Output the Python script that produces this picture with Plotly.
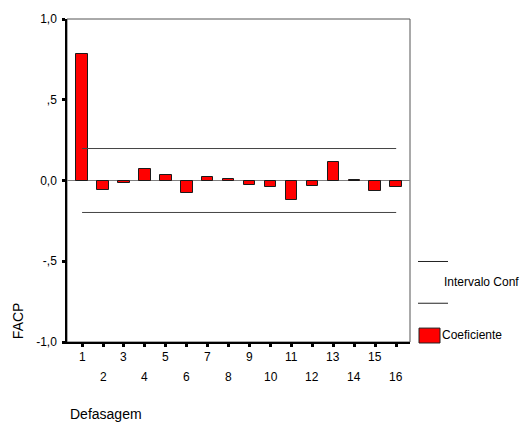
import plotly.graph_objects as go

# Partial autocorrelation (FACP) by lag, with the confidence bounds
lags = list(range(1, 17))
facp = [0.783, -0.057, -0.014, 0.069, 0.035, -0.078, 0.020, 0.008,
        -0.026, -0.043, -0.120, -0.033, 0.112, 0.006, -0.063, -0.043]
conf_limit = 0.198
y_tick_vals = [1.0, 0.5, 0.0, -0.5, -1.0]
y_tick_text = ["1,0", ",5", "0,0", "-,5", "-1,0"]
lag_labels = [str(v) for v in lags]

FONT = "Arial, Liberation Sans, sans-serif"
PX_L, PX_R, PX_T, PX_B = 67, 410, 17, 342   # plot area in pixels


def px_x(px):
    return (px - PX_L) / (PX_R - PX_L)


def px_y(py):
    return (PX_B - py) / (PX_B - PX_T)


fig = go.Figure()

fig.add_trace(go.Bar(
    x=lags, y=facp, width=0.55,
    marker=dict(color="#ff0000", line=dict(color="#1a1a1a", width=1)),
    showlegend=False,
))

for sign in (1, -1):
    fig.add_trace(go.Scatter(
        x=[lags[0], lags[-1]], y=[sign * conf_limit] * 2,
        mode="lines", line=dict(color="#444444", width=1),
        showlegend=False, hoverinfo="skip",
    ))

annotations = []
# two-row lag labels: odd lags on the first row, even lags below
for lag, lab in zip(lags, lag_labels):
    annotations.append(dict(
        x=lag, xref="x", y=px_y(357 if lag % 2 else 377), yref="paper",
        text=lab, showarrow=False, xanchor="center", yanchor="middle",
        font=dict(family=FONT, size=12, color="#000"),
    ))

annotations += [
    dict(x=px_x(18), y=px_y(321), xref="paper", yref="paper", text="FACP",
         textangle=-90, showarrow=False, xanchor="center", yanchor="middle",
         font=dict(family=FONT, size=14, color="#000")),
    dict(x=px_x(68), y=px_y(414), xref="paper", yref="paper", text="Defasagem",
         showarrow=False, xanchor="left", yanchor="middle",
         font=dict(family=FONT, size=14, color="#000")),
    dict(x=px_x(442), y=px_y(282), xref="paper", yref="paper", text="Intervalo Conf",
         showarrow=False, xanchor="left", yanchor="middle",
         font=dict(family=FONT, size=12, color="#000")),
    dict(x=px_x(440), y=px_y(335), xref="paper", yref="paper", text="Coeficiente",
         showarrow=False, xanchor="left", yanchor="middle",
         font=dict(family=FONT, size=12, color="#000")),
]

shapes = [
    # frame around the plot area
    dict(type="rect", xref="paper", yref="paper", x0=0, x1=1, y0=0, y1=1,
         line=dict(color="#555555", width=1), layer="below"),
    # legend: confidence interval lines
    dict(type="line", xref="paper", yref="paper", x0=px_x(418), x1=px_x(448),
         y0=px_y(261), y1=px_y(261), line=dict(color="#222222", width=1)),
    dict(type="line", xref="paper", yref="paper", x0=px_x(418), x1=px_x(448),
         y0=px_y(303), y1=px_y(303), line=dict(color="#222222", width=1)),
    # legend: coefficient swatch
    dict(type="rect", xref="paper", yref="paper", x0=px_x(419), x1=px_x(440),
         y0=px_y(343), y1=px_y(328), fillcolor="#ff0000",
         line=dict(color="#222222", width=1)),
]

fig.update_layout(
    width=524, height=426,
    margin=dict(l=PX_L, r=524 - PX_R, t=PX_T, b=426 - PX_B, pad=0),
    paper_bgcolor="white", plot_bgcolor="white",
    bargap=0, showlegend=False,
    annotations=annotations, shapes=shapes,
    font=dict(family=FONT, size=12, color="#000"),
    xaxis=dict(
        range=[0.28, 16.66], tickmode="array", tickvals=lags, showticklabels=False,
        ticks="outside", ticklen=3, tickwidth=3, tickcolor="#000",
        showline=True, linecolor="#000", linewidth=1.5, showgrid=False, zeroline=False,
    ),
    yaxis=dict(
        range=[-1.0, 1.0], tickmode="array", tickvals=y_tick_vals, ticktext=y_tick_text,
        ticks="outside", ticklen=3, tickwidth=3, tickcolor="#000",
        ticklabelstandoff=3,
        tickfont=dict(family=FONT, size=12, color="#000"),
        showline=True, linecolor="#000", linewidth=1.5, showgrid=False,
        zeroline=True, zerolinecolor="#808080", zerolinewidth=1,
    ),
)

fig.write_html("out.html")
